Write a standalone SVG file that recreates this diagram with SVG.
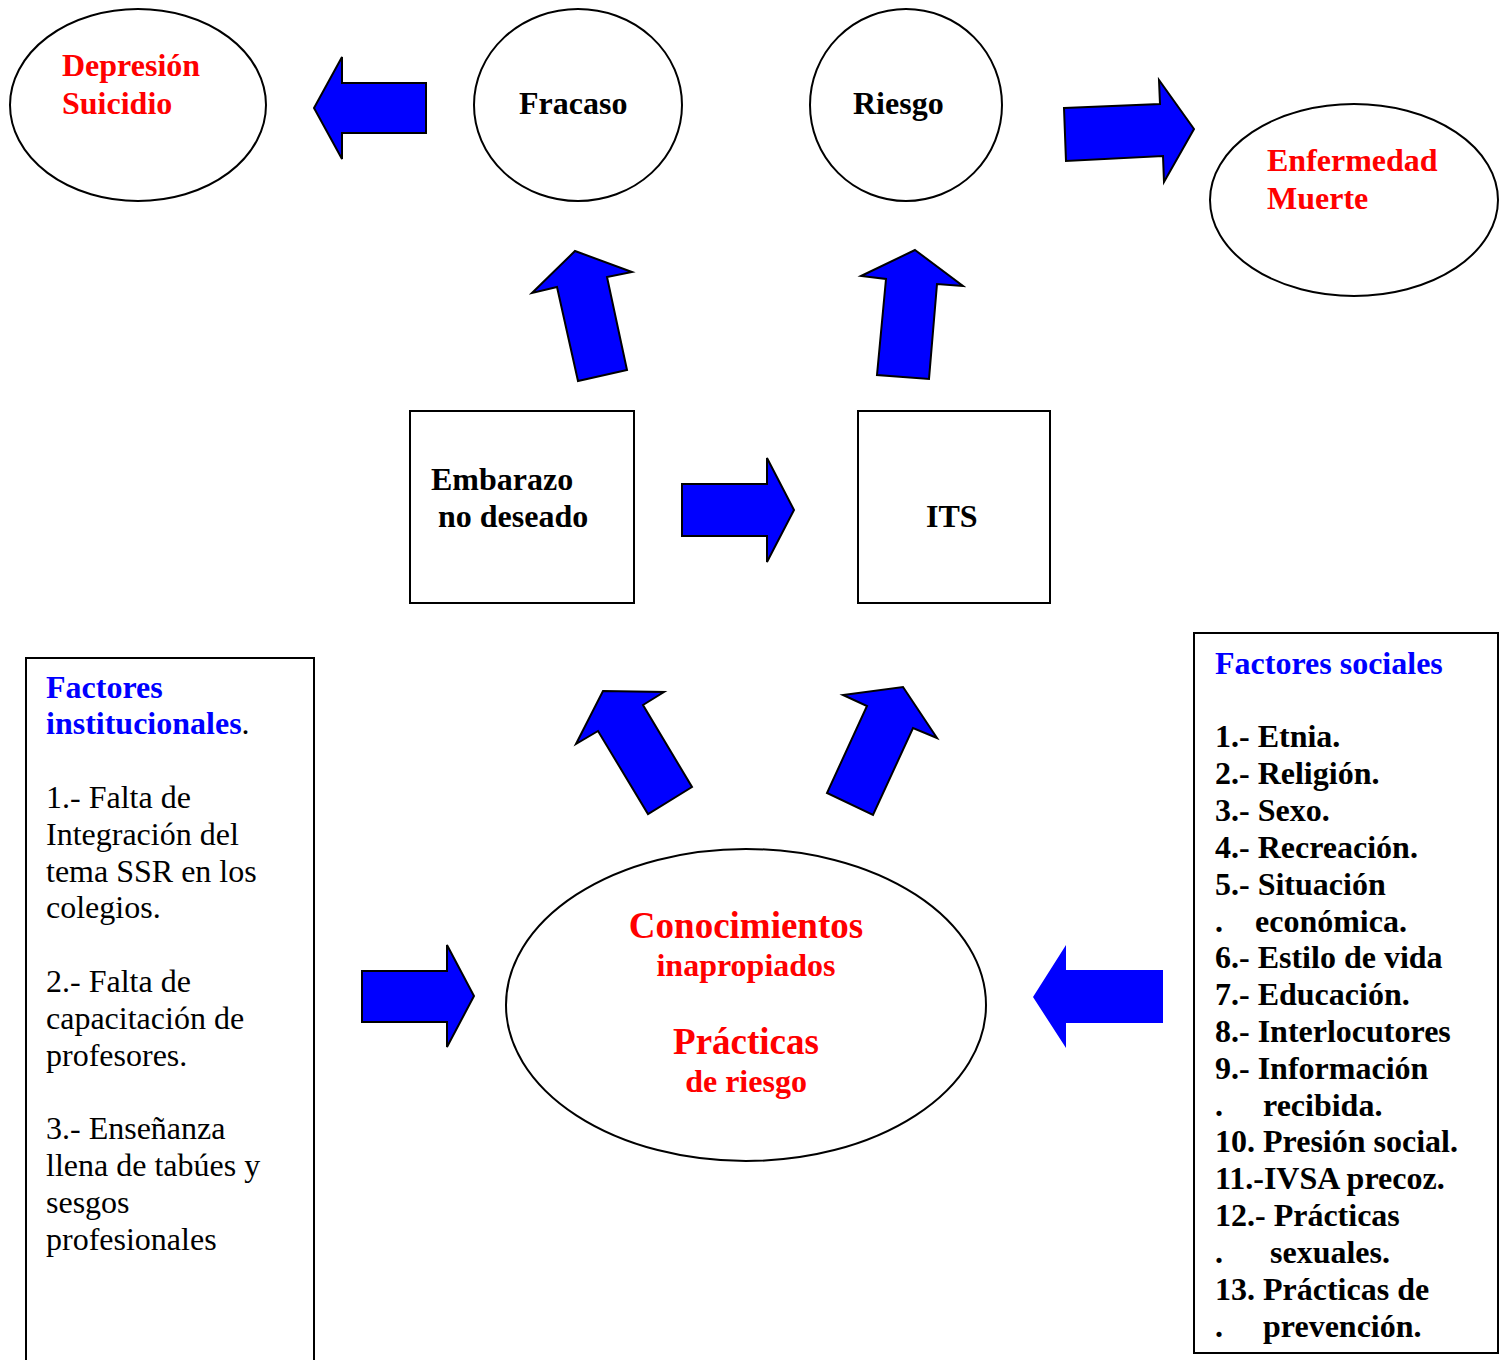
<svg xmlns="http://www.w3.org/2000/svg" width="1499" height="1360" viewBox="0 0 1499 1360">
<style>
.shape{fill:#fff;stroke:#000;stroke-width:2}
.arr{fill:#0000ff;stroke:#000;stroke-width:2;stroke-linejoin:miter}
.arrn{fill:#0000ff;stroke:none}
text{font-family:"Liberation Serif","Times New Roman",serif;font-size:32px}
.b{font-weight:bold}
.red{fill:#ff0000;font-weight:bold}
.blue{fill:#0000ff;font-weight:bold}
.big{font-size:37px}
</style>
<rect width="1499" height="1360" fill="#fff"/>
<g id="connectors">
<polygon class="arr" points="426,83 342,83 342,57 314,108 342,159 342,133 426,133"/>
<polygon class="arr" points="1064,108 1160,104 1159,80 1194,129 1164,182 1163,156 1066,161"/>
<polygon class="arr" points="575,251 632,272 607,277 627,370 578,381 557,287 532,293"/>
<polygon class="arr" points="915,250 963,286 937,284 929,379 877,375 886,279 861,276"/>
<polygon class="arr" points="682,484 767,484 767,458 794,510 767,562 767,536 682,536"/>
<polygon class="arr" points="603,691 664,692 643,705 692,787 648,814 598,731 576,744"/>
<polygon class="arr" points="903,687 937,738 913,728 873,815 827,793 867,706 843,695"/>
<polygon class="arr" points="362,971 447,971 447,945 474,996 447,1047 447,1022 362,1022"/>
<polygon class="arrn" points="1163,970 1066,970 1066,945 1033,997 1066,1048 1066,1023 1163,1023"/>
</g>
<g id="depresion">
<ellipse class="shape" cx="138" cy="105" rx="128" ry="96"/>
<text class="red" x="62" y="76">Depresión</text>
<text class="red" x="62" y="114">Suicidio</text>
</g>
<g id="fracaso">
<ellipse class="shape" cx="578" cy="105" rx="104" ry="96"/>
<text class="b" x="519" y="114">Fracaso</text>
</g>
<g id="riesgo">
<ellipse class="shape" cx="906" cy="105" rx="96" ry="96"/>
<text class="b" x="853" y="114">Riesgo</text>
</g>
<g id="enfermedad">
<ellipse class="shape" cx="1354" cy="200" rx="144" ry="96"/>
<text class="red" x="1267" y="171">Enfermedad</text>
<text class="red" x="1267" y="209">Muerte</text>
</g>
<g id="embarazo">
<rect class="shape" x="410" y="411" width="224" height="192"/>
<text class="b" x="431" y="490">Embarazo</text>
<text class="b" x="438" y="527">no deseado</text>
</g>
<g id="its">
<rect class="shape" x="858" y="411" width="192" height="192"/>
<text class="b" x="926" y="527">ITS</text>
</g>
<g id="conocimientos">
<ellipse class="shape" cx="746" cy="1005" rx="240" ry="156"/>
<text class="red big" x="746" y="938" text-anchor="middle">Conocimientos</text>
<text class="red" x="746" y="976" text-anchor="middle">inapropiados</text>
<text class="red big" x="746" y="1054" text-anchor="middle">Prácticas</text>
<text class="red" x="746" y="1092" text-anchor="middle">de riesgo</text>
</g>
<g id="factores-institucionales">
<rect class="shape" x="26" y="658" width="288" height="720"/>
<text class="blue" x="46" y="698">Factores</text>
<text x="46" y="734"><tspan class="blue">institucionales</tspan>.</text>
<text x="46" y="808">1.- Falta de</text>
<text x="46" y="845">Integración del</text>
<text x="46" y="882">tema SSR en los</text>
<text x="46" y="918">colegios.</text>
<text x="46" y="992">2.- Falta de</text>
<text x="46" y="1029">capacitación de</text>
<text x="46" y="1066">profesores.</text>
<text x="46" y="1139">3.- Enseñanza</text>
<text x="46" y="1176">llena de tabúes y</text>
<text x="46" y="1213">sesgos</text>
<text x="46" y="1250">profesionales</text>
</g>
<g id="factores-sociales">
<rect class="shape" x="1194" y="633" width="304" height="720"/>
<text class="blue" x="1215" y="674">Factores sociales</text>
<g class="b">
<text class="b" x="1215" y="747">1.- Etnia.</text>
<text class="b" x="1215" y="784">2.- Religión.</text>
<text class="b" x="1215" y="821">3.- Sexo.</text>
<text class="b" x="1215" y="858">4.- Recreación.</text>
<text class="b" x="1215" y="895">5.- Situación</text>
<text class="b" x="1215" y="932">.<tspan x="1255">económica.</tspan></text>
<text class="b" x="1215" y="968">6.- Estilo de vida</text>
<text class="b" x="1215" y="1005">7.- Educación.</text>
<text class="b" x="1215" y="1042">8.- Interlocutores</text>
<text class="b" x="1215" y="1079">9.- Información</text>
<text class="b" x="1215" y="1116">.<tspan x="1263">recibida.</tspan></text>
<text class="b" x="1215" y="1152">10. Presión social.</text>
<text class="b" x="1215" y="1189">11.-IVSA precoz.</text>
<text class="b" x="1215" y="1226">12.- Prácticas</text>
<text class="b" x="1215" y="1263">.<tspan x="1270">sexuales.</tspan></text>
<text class="b" x="1215" y="1300">13. Prácticas de</text>
<text class="b" x="1215" y="1337">.<tspan x="1263">prevención.</tspan></text>
</g>
</g>
</svg>
